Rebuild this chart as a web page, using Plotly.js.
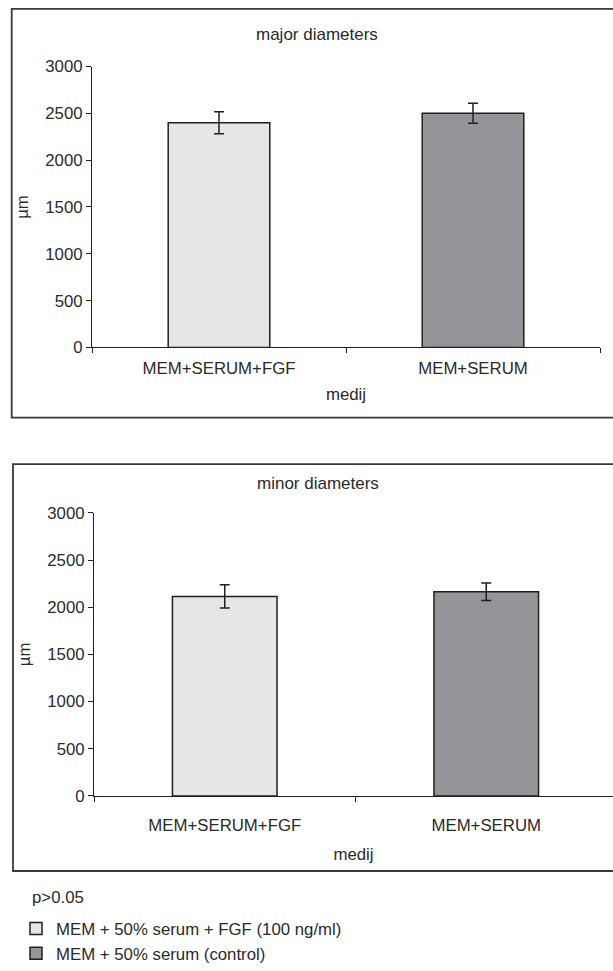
<!DOCTYPE html>
<html>
<head>
<meta charset="utf-8">
<script src="https://cdn.plot.ly/plotly-3.0.1.min.js"></script>
<style>
  html, body { margin: 0; padding: 0; background: #ffffff; }
  #chart { width: 613px; height: 971px; }
</style>
</head>
<body>
<div id="chart"></div>
<script>
// ---- data ----
const categories = ["MEM+SERUM+FGF", "MEM+SERUM"];
const seriesNames = ["MEM + 50% serum + FGF (100 ng/ml)", "MEM + 50% serum (control)"];
const majorValues = [2400, 2500];
const majorErrors = [118, 107];
const minorValues = [2115, 2165];
const minorErrors = [123, 92];
const yTickValues = [0, 500, 1000, 1500, 2000, 2500, 3000];
const panelTitles = ["major diameters", "minor diameters"];
const xTitle = "medij";
const yTitle = "µm";
const noteText = "p>0.05";

// ---- styles ----
const FONT = "Liberation Sans, Arial, sans-serif";
const TXT = "#2a2a2a";
const LINE = "#231f20";
const fills = ["#e5e6e8", "#939598"];
const W = 613, H = 971;
const FS = 16.8;
const px = v => v / W;
const py = v => 1 - v / H;

const traces = [];
function addPanel(values, errors, xa, ya, showLegend) {
  for (let i = 0; i < categories.length; i++) {
    traces.push({
      type: "bar",
      name: seriesNames[i],
      x: [categories[i]],
      y: [values[i]],
      width: 0.4,
      xaxis: xa, yaxis: ya,
      showlegend: showLegend,
      marker: { color: fills[i], line: { color: LINE, width: 1.5 } },
      error_y: { type: "data", array: [errors[i]], visible: true, color: LINE, thickness: 1.5, width: 5 },
      hoverinfo: "skip"
    });
  }
}
addPanel(majorValues, majorErrors, "x", "y", true);
addPanel(minorValues, minorErrors, "x2", "y2", false);

const tickFont = { family: FONT, size: FS, color: TXT };
function xAxis(domain, range, anchor, labelStandoff, titleStandoff) {
  return {
    domain: domain, range: range, anchor: anchor, type: "category",
    categoryorder: "array", categoryarray: categories,
    showline: true, linecolor: LINE, linewidth: 1,
    ticks: "outside", tickson: "boundaries", ticklen: 5, tickcolor: LINE, tickwidth: 1,
    ticklabelstandoff: labelStandoff,
    showgrid: false, zeroline: false, fixedrange: true,
    tickfont: tickFont,
    title: { text: xTitle, font: tickFont, standoff: titleStandoff }
  };
}
function yAxis(domain, anchor) {
  return {
    domain: domain, range: [0, 3000], anchor: anchor,
    tickmode: "array", tickvals: yTickValues, ticktext: yTickValues.map(String),
    showline: true, linecolor: LINE, linewidth: 1,
    ticks: "outside", ticklen: 5, tickcolor: LINE, tickwidth: 1,
    showgrid: false, zeroline: false, fixedrange: true,
    tickfont: tickFont,
    title: { text: yTitle, font: tickFont, standoff: 12 }
  };
}

const layout = {
  width: W, height: H,
  margin: { l: 0, r: 0, t: 0, b: 0 },
  paper_bgcolor: "#ffffff", plot_bgcolor: "#ffffff",
  font: { family: FONT, size: FS, color: TXT },
  barmode: "overlay",
  showlegend: true,
  legend: {
    x: px(16), y: py(918), xanchor: "left", yanchor: "top",
    font: { family: FONT, size: FS, color: TXT },
    bgcolor: "rgba(0,0,0,0)", traceorder: "normal"
  },
  xaxis: xAxis([px(92), px(600)], [-0.5, 1.5], "y", 5, 11),
  yaxis: yAxis([py(350), py(67)], "x"),
  xaxis2: xAxis([px(94), 1], [-0.5, -0.5 + 2 * (W - 94) / (617 - 94)], "y2", 14, 14),
  yaxis2: yAxis([py(801.7), py(516.7)], "x2"),
  shapes: [
    { type: "rect", xref: "paper", yref: "paper", x0: px(11.7), x1: 1.05, y0: py(420.7), y1: py(9),
      line: { color: "#3a3a3a", width: 1.8 }, fillcolor: "rgba(0,0,0,0)" },
    { type: "rect", xref: "paper", yref: "paper", x0: px(13), x1: 1.05, y0: py(877.3), y1: py(467.5),
      line: { color: "#3a3a3a", width: 1.8 }, fillcolor: "rgba(0,0,0,0)" }
  ],
  annotations: [
    { text: panelTitles[0], xref: "paper", yref: "paper", x: px(317), y: py(35), xanchor: "center", yanchor: "middle",
      showarrow: false, font: { family: FONT, size: 17, color: TXT } },
    { text: panelTitles[1], xref: "paper", yref: "paper", x: px(318), y: py(486.7), xanchor: "center", yanchor: "middle",
      showarrow: false, font: { family: FONT, size: 17, color: TXT } },
    { text: noteText, xref: "paper", yref: "paper", x: px(30), y: py(904), xanchor: "left", yanchor: "middle",
      showarrow: false, font: { family: FONT, size: FS, color: TXT } }
  ]
};

Plotly.newPlot("chart", traces, layout, { displayModeBar: false, staticPlot: true });
</script>
</body>
</html>
